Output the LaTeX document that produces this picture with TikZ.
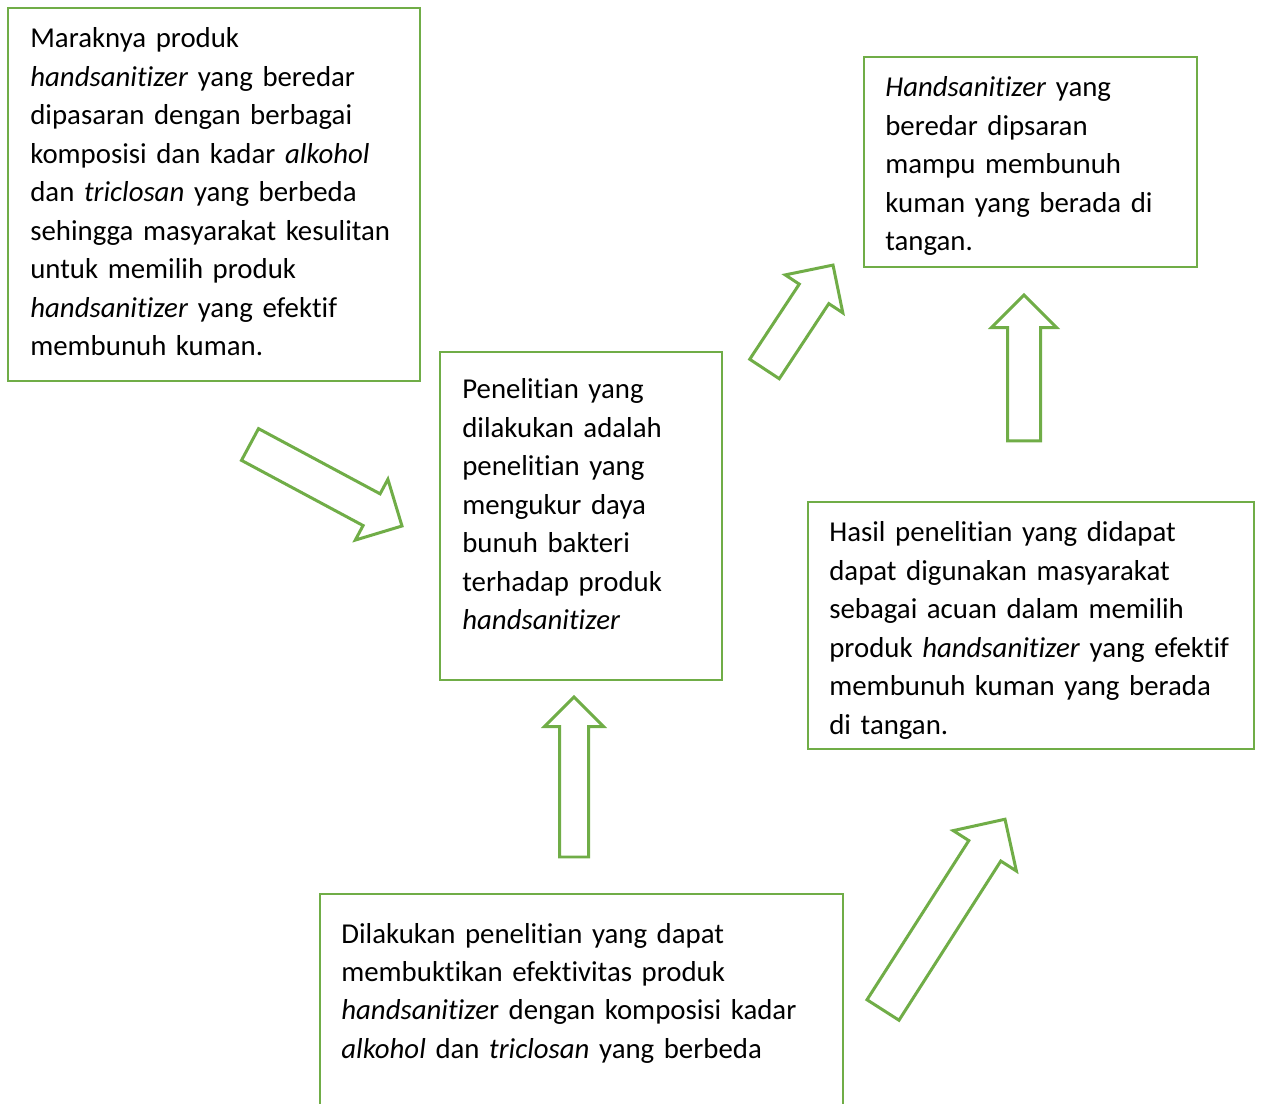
\documentclass[tikz,border=0pt]{standalone}
\usepackage{fontspec}
\setmainfont{Carlito}[Ligatures=NoCommon]
\usetikzlibrary{calc,shapes.arrows}
\definecolor{boxgreen}{RGB}{112,173,71}
\tikzset{
	box/.style={draw=boxgreen, line width=0.04cm, anchor=north west, inner sep=0pt, outer sep=0pt},
	txt/.style={anchor=base west, inner sep=0pt, align=left, font=\fontsize{16.4}{21.9}\selectfont},
	blockarrow/.style={single arrow, draw=boxgreen, line width=0.06cm, fill=white, inner xsep=0pt, outer sep=0pt, single arrow tip angle=90, anchor=tail},
}

\begin{document}
\begin{tikzpicture}[x=0.02cm, y=-0.02cm]
	%%%%% START %%%%%
	\path[use as bounding box, clip] (0, 0) rectangle (1262, 1104);
	
	\node[box, minimum width=8.24cm, minimum height=7.46cm] (latar) at (8, 8) {};
	\node[txt, text width=7.9cm] (latartxt) at ($(latar.north west)+(22, 40)$) {Maraknya produk\\
		\textit{handsanitizer} yang beredar\\
		dipasaran dengan berbagai\\
		komposisi dan kadar \textit{alkohol}\\
		dan \textit{triclosan} yang berbeda\\
		sehingga masyarakat kesulitan\\
		untuk memilih produk\\
		\textit{handsanitizer} yang efektif\\
		membunuh kuman.};
	
	\node[box, minimum width=5.64cm, minimum height=6.56cm] (metode) at (440, 352) {};
	\node[txt, text width=5.3cm] (metodetxt) at ($(metode.north west)+(22, 47)$) {Penelitian yang\\
		dilakukan adalah\\
		penelitian yang\\
		mengukur daya\\
		bunuh bakteri\\
		terhadap produk\\
		\textit{handsanitizer}};
	
	\node[box, minimum width=6.66cm, minimum height=4.2cm] (dugaan) at (864, 57) {};
	\node[txt, text width=6.3cm] (dugaantxt) at ($(dugaan.north west)+(21, 40)$) {\textit{Handsanitizer} yang\\
		beredar dipsaran\\
		mampu membunuh\\
		kuman yang berada di\\
		tangan.};
	
	\node[box, minimum width=8.92cm, minimum height=4.94cm] (manfaat) at (808, 502) {};
	\node[txt, text width=8.6cm] (manfaattxt) at ($(manfaat.north west)+(21, 40)$) {Hasil penelitian yang didapat\\
		dapat digunakan masyarakat\\
		sebagai acuan dalam memilih\\
		produk \textit{handsanitizer} yang efektif\\
		membunuh kuman yang berada\\
		di tangan.};
	
	\node[box, minimum width=10.46cm, minimum height=5cm] (uji) at (320, 894) {};
	\node[txt, text width=10cm] (ujitxt) at ($(uji.north west)+(21, 49)$) {Dilakukan penelitian yang dapat\\
		membuktikan efektivitas produk\\
		\textit{handsanitize}r dengan komposisi kadar\\
		\textit{alkohol} dan \textit{triclosan} yang berbeda};
	
	% panah
	\node[blockarrow, minimum height=3.45cm, inner ysep=0.33cm, single arrow head extend=0.33cm, rotate=-28.2] (panah1) at (250, 444.5) {};
	\node[blockarrow, minimum height=2.49cm, inner ysep=0.324cm, single arrow head extend=0.336cm, rotate=56.6] (panah2) at (764.5, 369) {};
	\node[blockarrow, minimum height=4.53cm, inner ysep=0.35cm, single arrow head extend=0.37cm, rotate=57.4] (panah3) at (883, 1010) {};
	\node[blockarrow, minimum height=3.2cm, inner ysep=0.26cm, single arrow head extend=0.3cm, rotate=90] (panah4) at (574, 857) {};
	\node[blockarrow, minimum height=2.92cm, inner ysep=0.3cm, single arrow head extend=0.32cm, rotate=90] (panah5) at (1024, 441) {};
	
	%%%%% END %%%%%
\end{tikzpicture}
\end{document}
